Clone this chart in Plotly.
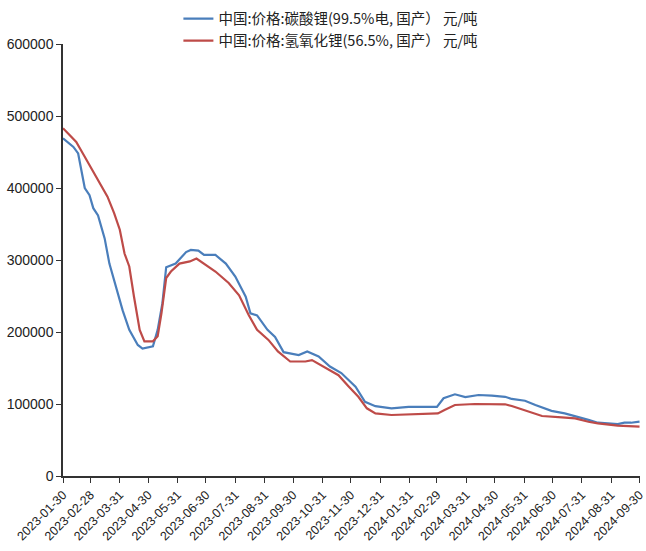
import plotly.graph_objects as go

# 碳酸锂 (99.5% 电池级, 国产) 价格, 元/吨
li2co3_dates = [
    "2023-01-30", "2023-02-10", "2023-02-15", "2023-02-18", "2023-02-22", "2023-02-27",
    "2023-03-03", "2023-03-08", "2023-03-12", "2023-03-15", "2023-03-20", "2023-03-27",
    "2023-04-03", "2023-04-10", "2023-04-19", "2023-04-24", "2023-05-05", "2023-05-10",
    "2023-05-15", "2023-05-19", "2023-05-29", "2023-06-09", "2023-06-14", "2023-06-22",
    "2023-06-28", "2023-07-10", "2023-07-21", "2023-07-31", "2023-08-11", "2023-08-16",
    "2023-08-23", "2023-09-03", "2023-09-11", "2023-09-20", "2023-10-06", "2023-10-15",
    "2023-10-27", "2023-11-08", "2023-11-20", "2023-12-05", "2023-12-15", "2023-12-26",
    "2024-01-12", "2024-01-30", "2024-02-23", "2024-02-29", "2024-03-07", "2024-03-19",
    "2024-03-30", "2024-04-13", "2024-04-27", "2024-05-11", "2024-05-18", "2024-06-01",
    "2024-06-12", "2024-06-29", "2024-07-13", "2024-07-27", "2024-08-07", "2024-08-17",
    "2024-08-31", "2024-09-07", "2024-09-14", "2024-09-21", "2024-09-30",
]
li2co3_values = [
    469000, 457000, 448000, 425000, 400000, 390000,
    372000, 362000, 342000, 330000, 295000, 263000,
    230000, 203000, 182000, 177000, 180000, 203000,
    240000, 290000, 295000, 311000, 314000, 313000,
    307000, 307000, 295000, 277000, 249000, 226000,
    223000, 203000, 193000, 172000, 168000, 173000,
    166000, 152000, 143000, 124000, 103000, 97000,
    94000, 96000, 95500, 96000, 108000, 113500,
    109500, 112500, 111500, 110000, 107000, 104500,
    98500, 90500, 87000, 82500, 78000, 74000,
    73000, 72000, 74000, 74000, 75500,
]

# 氢氧化锂 (56.5%, 国产) 价格, 元/吨
lioh_dates = [
    "2023-01-30", "2023-02-06", "2023-02-13", "2023-02-20", "2023-03-03", "2023-03-11",
    "2023-03-18", "2023-03-25", "2023-03-31", "2023-04-05", "2023-04-10", "2023-04-15",
    "2023-04-21", "2023-04-26", "2023-05-05", "2023-05-10", "2023-05-14", "2023-05-19",
    "2023-05-24", "2023-06-02", "2023-06-13", "2023-06-20", "2023-06-28", "2023-07-10",
    "2023-07-24", "2023-08-04", "2023-08-14", "2023-08-23", "2023-09-04", "2023-09-14",
    "2023-09-27", "2023-10-13", "2023-10-20", "2023-11-03", "2023-11-17", "2023-11-28",
    "2023-12-08", "2023-12-17", "2023-12-26", "2024-01-12", "2024-02-16", "2024-03-01",
    "2024-03-08", "2024-03-19", "2024-04-09", "2024-05-11", "2024-05-18", "2024-06-01",
    "2024-06-19", "2024-07-10", "2024-07-24", "2024-08-07", "2024-08-17", "2024-09-07",
    "2024-09-21", "2024-09-30",
]
lioh_values = [
    483000, 474000, 464000, 448000, 423000, 404000,
    388000, 365000, 342000, 309000, 291000, 249000,
    203000, 187000, 187000, 194000, 226000, 275000,
    284000, 295000, 298000, 302000, 295000, 284000,
    268000, 251000, 224000, 203000, 189000, 173000,
    159000, 159000, 161000, 150000, 140000, 124000,
    110000, 94000, 87000, 84700, 86000, 87000,
    91700, 98600, 100000, 99600, 97200, 90700,
    83300, 81500, 80100, 75400, 73100, 69900,
    68500, 68500,
]

series_names = [
    "中国:价格:碳酸锂(99.5%电, 国产） 元/吨",
    "中国:价格:氢氧化锂(56.5%, 国产） 元/吨",
]

x_ticks = [
    "2023-01-30", "2023-02-28", "2023-03-31", "2023-04-30", "2023-05-31", "2023-06-30",
    "2023-07-31", "2023-08-31", "2023-09-30", "2023-10-31", "2023-11-30", "2023-12-31",
    "2024-01-31", "2024-02-29", "2024-03-31", "2024-04-30", "2024-05-31", "2024-06-30",
    "2024-07-31", "2024-08-31", "2024-09-30",
]
y_ticks = [0, 100000, 200000, 300000, 400000, 500000, 600000]

fig = go.Figure()
fig.add_trace(go.Scatter(
    x=li2co3_dates, y=li2co3_values, mode="lines", name=series_names[0],
    line=dict(color="#4A7EBB", width=2.2),
))
fig.add_trace(go.Scatter(
    x=lioh_dates, y=lioh_values, mode="lines", name=series_names[1],
    line=dict(color="#BE4B48", width=2.2),
))

fig.update_layout(
    width=646, height=551,
    margin=dict(l=63, r=6, t=44, b=75, autoexpand=False),
    paper_bgcolor="white", plot_bgcolor="white",
    font=dict(family="Liberation Sans, Arial, sans-serif", size=14, color="#222222"),
    showlegend=True,
    legend=dict(
        x=0.2, xanchor="left", y=0.995, yanchor="top", yref="container",
        orientation="v", bgcolor="rgba(0,0,0,0)",
        font=dict(family="Noto Sans CJK SC, sans-serif", size=14.5, color="#222222"),
        itemwidth=30, tracegroupgap=0,
    ),
    xaxis=dict(
        type="date",
        range=["2023-01-30", "2024-09-30 12:00"],
        tickmode="array", tickvals=x_ticks, ticktext=x_ticks,
        tickangle=-45, ticks="outside", ticklen=5, tickcolor="#333333",
        ticklabeloverflow="allow",
        showline=True, linecolor="#333333", linewidth=1.5,
        showgrid=False, zeroline=False,
        tickfont=dict(size=12.5),
    ),
    yaxis=dict(
        range=[0, 600000],
        tickmode="array", tickvals=y_ticks, ticktext=[str(v) for v in y_ticks],
        ticks="outside", ticklen=5, tickcolor="#333333",
        showline=True, linecolor="#333333", linewidth=1.5,
        showgrid=False, zeroline=False,
        tickfont=dict(size=14),
    ),
)

fig.write_html("out.html")
